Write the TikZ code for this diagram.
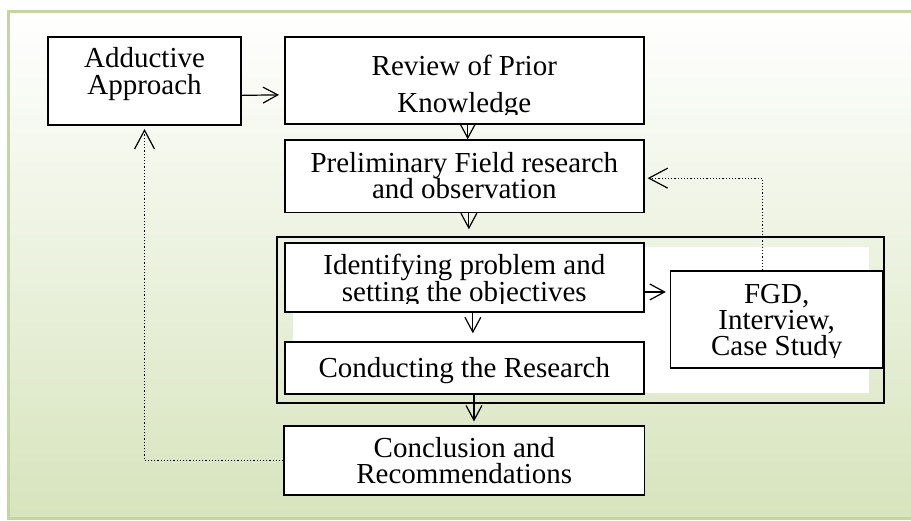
\documentclass[tikz,border=0pt]{standalone}
\usepackage{fontspec}
\setmainfont{Liberation Serif}
\usepackage{tikz}
\usetikzlibrary{arrows.meta}
\definecolor{leaf}{RGB}{215,228,189}
\definecolor{leafline}{RGB}{195,214,155}
\newcommand{\boxfont}[1]{\fontsize{14.5}{#1}\selectfont}
\tikzstyle{box} = [draw, fill=white, line width=0.75pt, inner sep=0pt, align=center, font=\boxfont{13.5}]
\tikzstyle{arrow} = [line width=0.6pt, -{Straight Barb[length=0.26cm, width=0.28cm]}]
\tikzstyle{feedback} = [line width=0.6pt, densely dotted, -{Straight Barb[length=0.33cm, width=0.35cm]}]
\lineskiplimit=-20pt

\begin{document}
\begin{tikzpicture}
	\useasboundingbox (0, 0) rectangle (16.01, 9.156);
	\shade[top color=white, bottom color=leaf, draw=leafline, line width=1.5pt] (0.15, 0.035) rectangle (16.4, 8.95);

	\node[box, text height=16pt, text depth=3pt, minimum width=3.39cm, minimum height=1.55cm](adductive) at (2.54, 7.73){Adductive\\Approach};
	\node[box, font=\boxfont{18.5}, text height=33pt, text depth=1.5pt, minimum width=6.31cm, minimum height=1.53cm](review) at (8.16, 7.74){Review of Prior\\Knowledge};
	\node[box, font=\boxfont{13}, text height=24pt, text depth=2pt, minimum width=6.31cm, minimum height=1.27cm](field) at (8.16, 6.06){Preliminary Field research\\and observation};

	% grouped steps of the field work
	\node[fill=white, inner sep=0pt, minimum width=10.12cm, minimum height=2.57cm](panel) at (10.21, 3.53){};
	\node[draw, line width=0.75pt, inner sep=0pt, minimum width=10.67cm, minimum height=2.92cm](frame) at (10.20, 3.53){};
	\node[box, text height=26pt, text depth=1.5pt, minimum width=6.31cm, minimum height=1.21cm](problem) at (8.16, 4.28){Identifying problem and\\setting the objectives};
	\node[box, text height=12pt, text depth=2pt, minimum width=6.31cm, minimum height=0.91cm](research) at (8.16, 2.69){Conducting the Research};
	\node[box, font=\boxfont{13}, text height=38pt, text depth=2.5pt, minimum width=3.73cm, minimum height=1.70cm](fgd) at (13.65, 3.54){FGD,\\Interview,\\Case Study};

	\node[box, font=\boxfont{13}, text height=24pt, text depth=1.5pt, minimum width=6.33cm, minimum height=1.21cm](conclusion) at (8.16, 1.06){Conclusion and\\Recommendations};

	% last lines run into the box margin
	\fill[white]([shift={(0.8pt, 0.8pt)}]review.south west) rectangle ([shift={(-0.8pt, 5pt)}]review.south east);
	\fill[white]([shift={(0.8pt, 0.8pt)}]problem.south west) rectangle ([shift={(-0.8pt, 4.5pt)}]problem.south east);
	\fill[white]([shift={(0.8pt, 0.8pt)}]fgd.south west) rectangle ([shift={(-0.8pt, 5.5pt)}]fgd.south east);

	\draw[arrow, shorten >=2.5pt]([yshift=-0.25cm]adductive.east) -- ([yshift=-0.25cm]review.west);
	\draw[arrow]([xshift=0.06cm]review.south) -- ([xshift=0.06cm]field.north);
	\draw[arrow, shorten >=3.5pt]([xshift=0.08cm]field.south) -- ([xshift=0.08cm]field.south |- frame.north);
	\draw[arrow, shorten >=4pt]([xshift=0.15cm]problem.south) -- ([xshift=0.15cm]research.north);
	\draw[arrow, shorten >=2pt]([yshift=-0.255cm]problem.east) -- ([yshift=-0.255cm]problem.east -| fgd.west);
	\draw[arrow, shorten >=2pt]([xshift=0.17cm]research.south) -- ([xshift=0.17cm]conclusion.north);
	\draw[feedback, shorten >=1.5pt]([xshift=-0.25cm]fgd.north) |- ([yshift=-0.035cm]field.east);
	\draw[feedback, shorten >=1.5pt](conclusion.west) -| (adductive.south);
\end{tikzpicture}
\end{document}
